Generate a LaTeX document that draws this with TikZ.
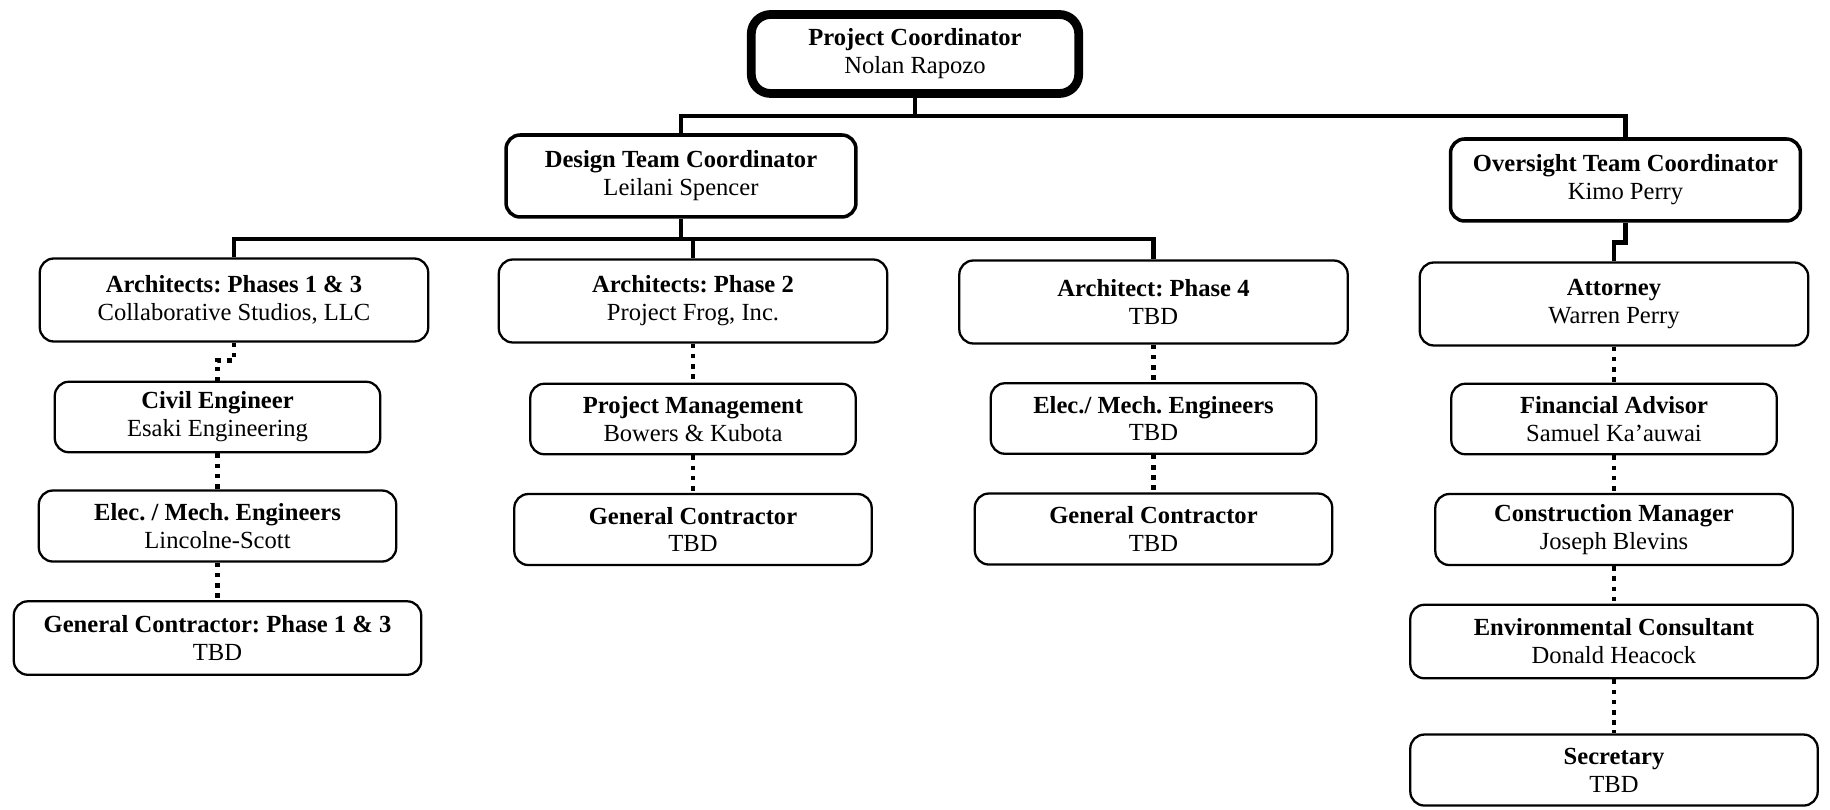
\documentclass[tikz,border=0pt]{standalone}
\usepackage{fontspec}
\setmainfont{Liberation Serif}
\frenchspacing
\usetikzlibrary{positioning}
\tikzset{
  orgbox/.style={rectangle, draw=black, fill=white, align=center,
    rounded corners=8pt, line width=1.3pt, inner sep=2pt,
    font=\fontsize{14}{15.9}\selectfont},
  headbox/.style={orgbox, line width=5pt, rounded corners=11pt,
    minimum width=6.55cm, minimum height=1.58cm},
  leadbox/.style={orgbox, line width=2pt,
    minimum width=7.0cm, minimum height=1.64cm},
  archbox/.style={orgbox, minimum width=7.77cm, minimum height=1.66cm},
  narrowbox/.style={orgbox, minimum width=6.51cm, minimum height=1.41cm},
  midbox/.style={orgbox, minimum width=7.15cm, minimum height=1.42cm},
  widebox/.style={orgbox, minimum width=8.15cm, minimum height=1.47cm},
  orgline/.style={line width=2.8pt},
  dotline/.style={line width=2.7pt, dash pattern=on 2.6pt off 3.2pt}
}

\begin{document}
\begin{tikzpicture}[x=0.02cm, y=-0.02cm, node distance=0.75cm]
  \path[use as bounding box, fill=white] (0,0) rectangle (1830,810);

  % Coordinators
  \node[headbox] (pc) at (915,54) {\textbf{Project Coordinator}\\Nolan Rapozo};
  \node[leadbox] (dtc) at (681,176) {\textbf{Design Team Coordinator}\\Leilani Spencer};
  \node[leadbox] (otc) at (1625.5,180) {\textbf{Oversight Team Coordinator}\\Kimo Perry};

  % Design team
  \node[archbox] (arch13) at (234,300) {\textbf{Architects: Phases 1 \& 3}\\Collaborative Studios, LLC};
  \node[narrowbox, below=0.76cm of arch13, xshift=-0.33cm] (civil) {\textbf{Civil Engineer}\\Esaki Engineering};
  \node[midbox, below=0.72cm of civil] (em1) {\textbf{Elec. / Mech. Engineers}\\Lincolne-Scott};
  \node[widebox, below=of em1] (gc1) {\textbf{General Contractor: Phase 1 \& 3}\\TBD};

  \node[archbox] (arch2) at (693,301) {\textbf{Architects: Phase 2}\\Project Frog, Inc.};
  \node[narrowbox, below=0.78cm of arch2] (pm) {\textbf{Project Management}\\Bowers \& Kubota};
  \node[midbox, below=of pm] (gc2) {\textbf{General Contractor}\\TBD};

  \node[archbox] (arch4) at (1153.5,302) {\textbf{Architect: Phase 4}\\TBD};
  \node[narrowbox, below=of arch4] (em4) {\textbf{Elec./ Mech. Engineers}\\TBD};
  \node[midbox, below=of em4] (gc4) {\textbf{General Contractor}\\TBD};

  % Oversight team
  \node[archbox] (atty) at (1614,304) {\textbf{Attorney}\\Warren Perry};
  \node[narrowbox, below=0.72cm of atty] (fa) {\textbf{Financial Advisor}\\Samuel Ka’auwai};
  \node[midbox, below=of fa] (cm) {\textbf{Construction Manager}\\Joseph Blevins};
  \node[widebox, below=of cm] (ec) {\textbf{Environmental Consultant}\\Donald Heacock};
  \node[widebox, below=1.08cm of ec, minimum height=1.42cm] (sec) {\textbf{Secretary}\\TBD};

  % Solid reporting lines
  \coordinate (topbus) at (915,116);
  \coordinate (dtcbus) at (681,239);
  \draw[orgline] (pc.south) -- (topbus);
  \draw[orgline] (dtc.north) |- (topbus) -| (otc.north);
  \draw[orgline] (dtc.south) -- (dtcbus);
  \draw[orgline] (arch13.north) |- (dtcbus) -| (arch4.north);
  \draw[orgline] (arch2.north) -- (arch2.north |- dtcbus);
  \draw[orgline] (otc.south) -- ++(0,20) -| (atty.north);

  % Dotted support lines
  \draw[dotline] (arch13.south) -- ++(0,18) -| (civil.north);
  \foreach \a/\b in {civil/em1, em1/gc1, arch2/pm, pm/gc2, arch4/em4,
    em4/gc4, atty/fa, fa/cm, cm/ec, ec/sec}
    \draw[dotline] (\a.south) -- (\b.north);
\end{tikzpicture}
\end{document}
